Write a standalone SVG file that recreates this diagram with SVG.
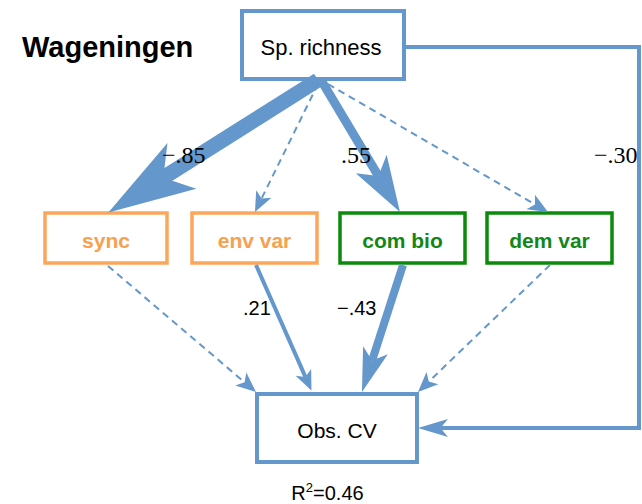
<svg xmlns="http://www.w3.org/2000/svg" width="642" height="504" viewBox="0 0 642 504">
  <style>
    .box { fill: #ffffff; stroke-width: 4; }
    .blue { stroke: #6497cb; }
    .orange { stroke: #fba65a; stroke-width: 3.5; }
    .green { stroke: #0b8a0b; stroke-width: 3.5; }
    .lbl { font-family: "Liberation Sans", Arial, sans-serif; fill: #000000; }
    .node-txt { font-family: "Liberation Sans", Arial, sans-serif; font-weight: bold; font-size: 21px; text-anchor: middle; }
    .orange-txt { fill: #f7a04f; }
    .green-txt { fill: #11871a; }
    .coef { font-family: "Liberation Serif", "Times New Roman", serif; font-size: 24px; fill: #000000; }
    .coef-sans { font-family: "Liberation Sans", Arial, sans-serif; font-size: 20px; fill: #000000; }
    .edge { fill: none; stroke: #6497cb; }
    .dash { stroke-width: 2; stroke-dasharray: 7 5; }
    .head { fill: #6497cb; stroke: none; }
  </style>
  <defs>
    <!-- notched arrowheads, tip at x=0, path ends at the notch (refX) -->
    <marker id="ah-xl" viewBox="-87 -27 87 54" markerWidth="87" markerHeight="54" refX="-65" refY="0" orient="auto" markerUnits="userSpaceOnUse" overflow="visible">
      <path class="head" d="M0,0 L-87,-27 L-65,0 L-87,27 Z"/>
    </marker>
    <marker id="ah-l" viewBox="-56 -18 56 36" markerWidth="56" markerHeight="36" refX="-42" refY="0" orient="auto" markerUnits="userSpaceOnUse" overflow="visible">
      <path class="head" d="M0,0 L-56,-18 L-42,0 L-56,18 Z"/>
    </marker>
    <marker id="ah-m" viewBox="-44 -13 44 26" markerWidth="44" markerHeight="26" refX="-33" refY="0" orient="auto" markerUnits="userSpaceOnUse" overflow="visible">
      <path class="head" d="M0,0 L-44,-13 L-33,0 L-44,13 Z"/>
    </marker>
    <marker id="ah-r" viewBox="-30 -9 30 18" markerWidth="30" markerHeight="18" refX="-22.5" refY="0" orient="auto" markerUnits="userSpaceOnUse" overflow="visible">
      <path class="head" d="M0,0 L-30,-9 L-22.5,0 L-30,9 Z"/>
    </marker>
    <marker id="ah-s" viewBox="-20 -8.5 20 17" markerWidth="20" markerHeight="17" refX="-15" refY="0" orient="auto" markerUnits="userSpaceOnUse" overflow="visible">
      <path class="head" d="M0,0 L-20,-8.5 L-15,0 L-20,8.5 Z"/>
    </marker>
  </defs>

  <rect width="642" height="504" fill="#ffffff"/>

  <text class="lbl" x="22" y="57" font-size="29" font-weight="bold">Wageningen</text>

  <g id="sp-richness">
    <rect class="box blue" x="242" y="11" width="162" height="68"/>
    <text class="lbl" x="321" y="55" font-size="22" text-anchor="middle">Sp. richness</text>
  </g>

  <g id="sync">
    <rect class="box orange" x="45" y="213" width="122" height="50"/>
    <text class="node-txt orange-txt" x="106" y="248">sync</text>
  </g>

  <g id="env-var">
    <rect class="box orange" x="192" y="213" width="125" height="50"/>
    <text class="node-txt orange-txt" x="254.5" y="248">env var</text>
  </g>

  <g id="com-bio">
    <rect class="box green" x="340" y="213" width="125" height="50"/>
    <text class="node-txt green-txt" x="402.5" y="248">com bio</text>
  </g>

  <g id="dem-var">
    <rect class="box green" x="487" y="213" width="125" height="50"/>
    <text class="node-txt green-txt" x="549.5" y="248">dem var</text>
  </g>

  <g id="obs-cv">
    <rect class="box blue" x="257" y="394" width="160" height="68"/>
    <text class="lbl" x="337" y="438" font-size="21" text-anchor="middle">Obs. CV</text>
    <text class="lbl" x="327.5" y="500" font-size="20" text-anchor="middle">R<tspan font-size="13" dy="-8">2</tspan><tspan dy="8">=0.46</tspan></text>
  </g>

  <!-- label partly tucked under the feedback line -->
  <text class="coef" x="594" y="163">−.30</text>

  <g id="connectors">
    <!-- from Sp. richness -->
    <path class="edge" stroke-width="15" d="M318,80 L163.3,177.7" marker-end="url(#ah-xl)"/>
    <path class="edge dash" d="M318,84 L261.6,198.5" marker-end="url(#ah-s)"/>
    <path class="edge" stroke-width="9" d="M321,80 L378.4,176" marker-end="url(#ah-l)"/>
    <path class="edge dash" d="M328,84 L535,204.5" marker-end="url(#ah-s)"/>
    <path class="edge" stroke-width="4" d="M404,47 H639 V428 H440.5" marker-end="url(#ah-r)"/>
    <!-- into Obs. CV -->
    <path class="edge dash" d="M108,266 L244.6,382.3" marker-end="url(#ah-s)"/>
    <path class="edge" stroke-width="4" d="M256,265 L305.4,376.9" marker-end="url(#ah-s)"/>
    <path class="edge" stroke-width="8" d="M403,265 L372.1,360.6" marker-end="url(#ah-m)"/>
    <path class="edge dash" d="M550,265 L428.8,381.6" marker-end="url(#ah-s)"/>
  </g>

  <!-- path coefficients, drawn over the arrows -->
  <g id="coefficients">
    <text class="coef" x="162" y="163">−.85</text>
    <text class="coef" x="341" y="163">.55</text>
    <text class="coef-sans" x="243" y="315">.21</text>
    <text class="coef-sans" x="337" y="315">−.43</text>
  </g>
</svg>
